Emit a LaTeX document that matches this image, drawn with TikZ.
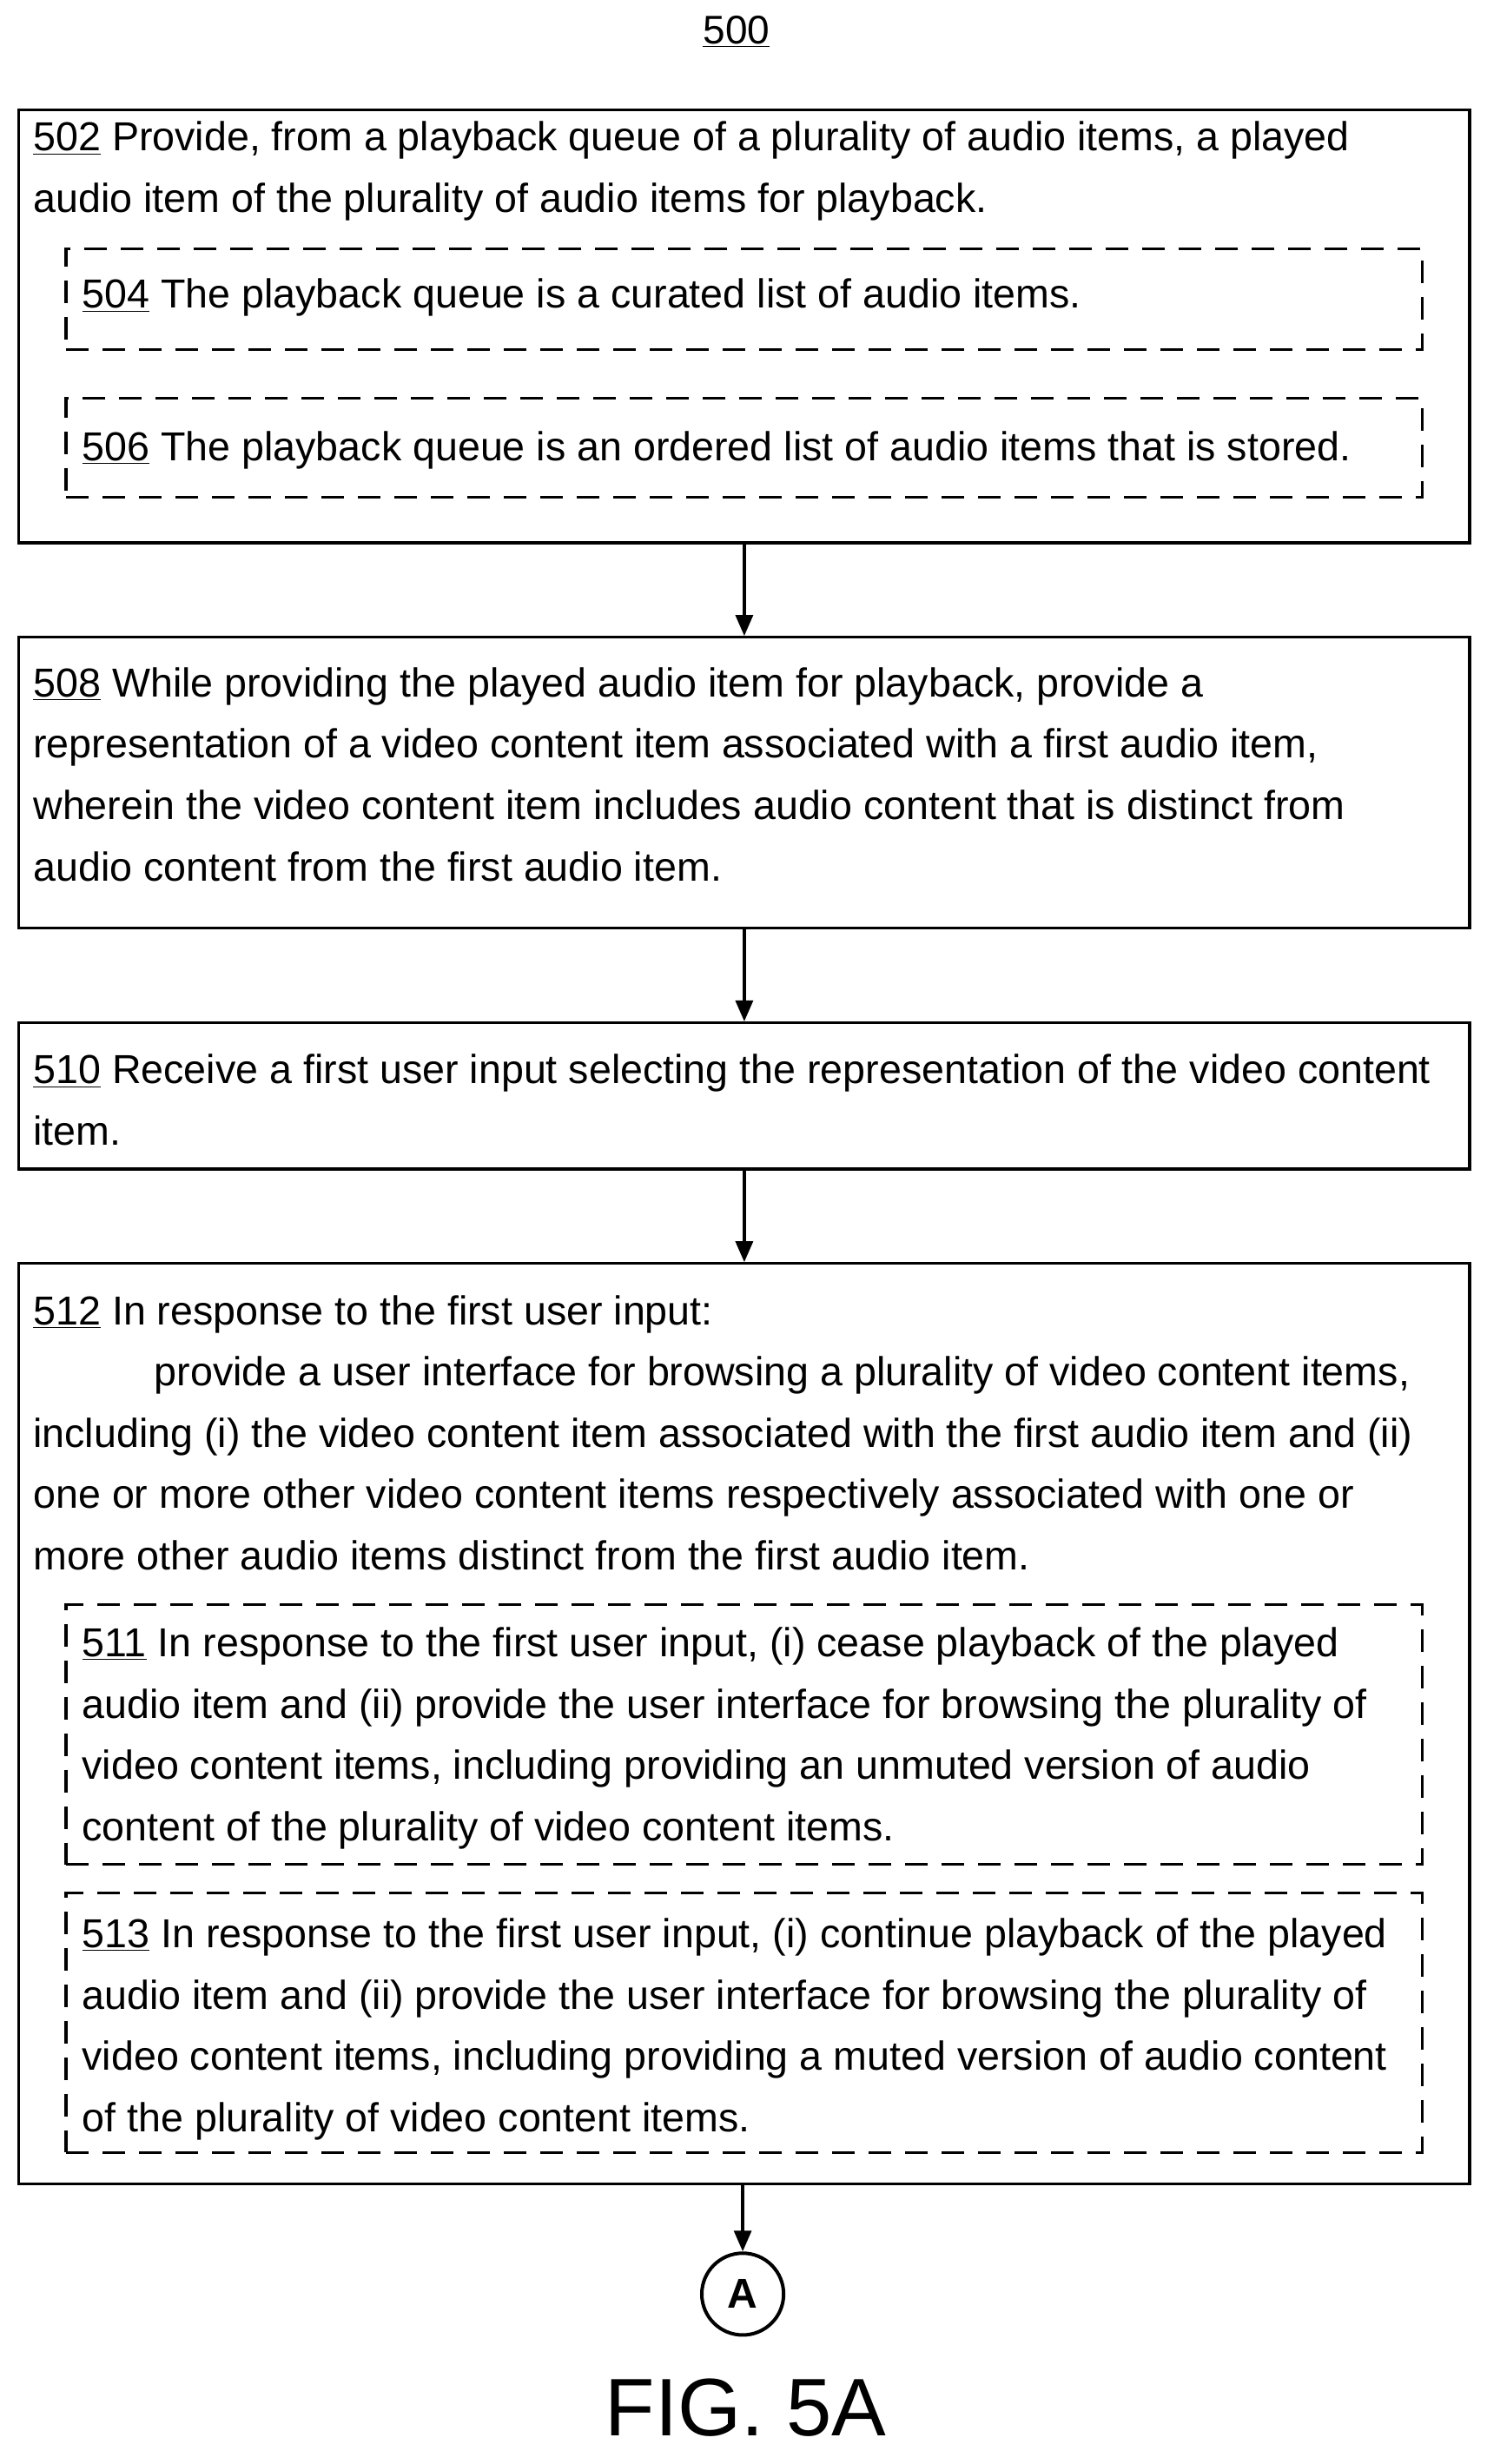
\documentclass[tikz,border=0pt]{standalone}
\usepackage{fontspec}
\setmainfont{Liberation Sans}
\usetikzlibrary{arrows.meta}
\newcommand\pu{0.9058pt}
\tikzset{
  box/.style={draw, line width=1.6pt, minimum width=922*\pu, inner sep=0pt},
  subbox/.style={draw, line width=1.6pt, dash pattern=on 13pt off 8pt, minimum width=862*\pu, inner sep=0pt},
  txt/.style={anchor=north west, inner sep=0pt, align=left, font=\fontsize{23.3}{35.3}\selectfont},
  flow/.style={line width=1.6pt, -{Triangle[length=12pt,width=10pt]}}
}
\begin{document}
\begin{tikzpicture}[x=\pu,y=-\pu]
\useasboundingbox (0,0) rectangle (945,1566);

% title
\node[font=\fontsize{23}{26}\selectfont] (title) at (468,20) {\underline{500}};

% box 502
\node[box, minimum height=275*\pu] (b502) at (473,207.5) {};
\node[subbox, minimum height=64*\pu] (b504) at (473,190) {};
\node[subbox, minimum height=63*\pu] (b506) at (473,284.5) {};
\node[txt] (t502) at (21,77) {\underline{502} Provide, from a playback queue of a plurality of audio items, a played\\audio item of the plurality of audio items for playback.};
\node[txt] (t504) at (52,177) {\underline{504} The playback queue is a curated list of audio items.};
\node[txt] (t506) at (52,274) {\underline{506} The playback queue is an ordered list of audio items that is stored.};

% box 508
\node[box, minimum height=185*\pu] (b508) at (473,497.5) {};
\node[txt] (t508) at (21,424) {\underline{508} While providing the played audio item for playback, provide a\\representation of a video content item associated with a first audio item,\\wherein the video content item includes audio content that is distinct from\\audio content from the first audio item.};

% box 510
\node[box, minimum height=93*\pu] (b510) at (473,696.5) {};
\node[txt] (t510) at (21,670) {\underline{510} Receive a first user input selecting the representation of the video content\\item.};

% box 512
\node[box, minimum height=585*\pu] (b512) at (473,1095.5) {};
\node[txt] (t512) at (21,823) {\underline{512} In response to the first user input:\\
\hspace*{69.7pt}provide a user interface for browsing a plurality of video content items,\\
including (i) the video content item associated with the first audio item and (ii)\\
one or more other video content items respectively associated with one or\\
more other audio items distinct from the first audio item.};
\node[subbox, minimum height=165*\pu] (b511) at (473,1102.5) {};
\node[txt] (t511) at (52,1034) {\underline{511} In response to the first user input, (i) cease playback of the played\\audio item and (ii) provide the user interface for browsing the plurality of\\video content items, including providing an unmuted version of audio\\content of the plurality of video content items.};
\node[subbox, minimum height=165*\pu] (b513) at (473,1285.5) {};
\node[txt] (t513) at (52,1219) {\underline{513} In response to the first user input, (i) continue playback of the played\\audio item and (ii) provide the user interface for browsing the plurality of\\video content items, including providing a muted version of audio content\\of the plurality of video content items.};

% connector A
\node[draw, circle, line width=2pt, minimum size=52*\pu, inner sep=0pt, font=\bfseries\fontsize{24}{28}\selectfont] (conA) at (472,1458) {A};

\draw[flow] (b502.south) -- (b508.north);
\draw[flow] (b508.south) -- (b510.north);
\draw[flow] (b510.south) -- (b512.north);
\draw[flow] (b512.south -| conA) -- (conA.north);

\node[font=\fontsize{47}{54}\selectfont] (fig) at (474,1530) {FIG. 5A};
\end{tikzpicture}
\end{document}
